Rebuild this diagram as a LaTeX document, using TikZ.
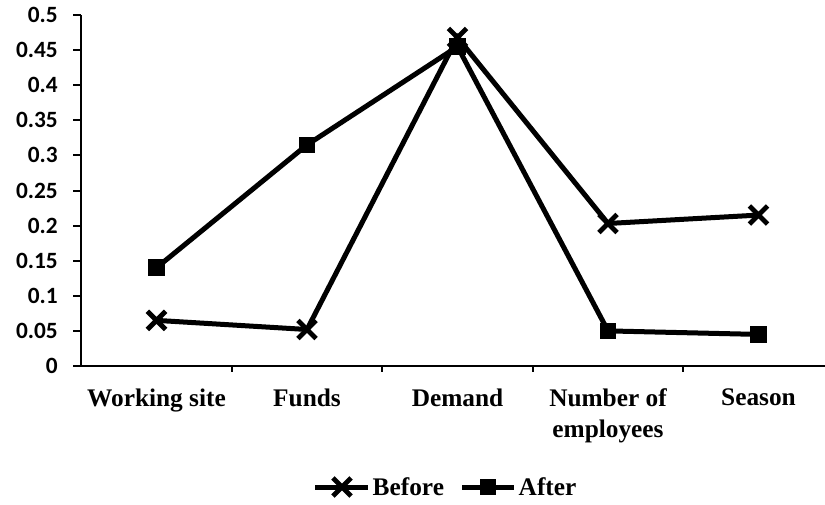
\documentclass[tikz,border=0pt]{standalone}
\usepackage{fontspec}
\setmainfont{Liberation Serif}
\newfontfamily\ticfont{Carlito}
\usetikzlibrary{shapes.misc, positioning}

\begin{document}
\begin{tikzpicture}[x=0.75pt, y=-0.75pt,
		axisline/.style={line width=1.5pt},
		series/.style={line width=3.75pt},
		sqmark/.style={fill=black, minimum size=12.5pt, inner sep=0pt},
		crossmark/.style={draw, cross out, line width=3.6pt, minimum size=10pt, inner sep=0pt},
		ticklabel/.style={anchor=east, inner sep=0pt, font=\ticfont\bfseries\fontsize{17.5}{20}\selectfont},
		catlabel/.style={anchor=north, align=center, font=\bfseries\fontsize{19}{23}\selectfont},
		leglabel/.style={font=\bfseries\fontsize{19}{23}\selectfont}]
		
		\useasboundingbox (0,0) rectangle (825,504);
		
		% axes
		\coordinate (o) at (81,366);
		\coordinate (ytop) at (81,15);
		\coordinate (xend) at (825,366);
		\draw[axisline] (ytop) -- (o) -- (xend);
		
		\foreach \lab [count=\i from 0] in {0,0.05,0.1,0.15,0.2,0.25,0.3,0.35,0.4,0.45,0.5} {
			\draw[axisline] (73,{366-35.1*\i}) -- (81,{366-35.1*\i});
			\node[ticklabel] (t\i) at (58,{366-35.1*\i}) {\lab};
		}
		\foreach \i in {1,...,4}
			\draw[axisline] ({81+150.5*\i},366) -- ({81+150.5*\i},372);
		
		% categories
		\foreach \lab [count=\i] in {Working site, Funds, Demand, {Number of\\employees}, Season}
			\node[catlabel] (c\i) at ({6+150.5*\i},384) {\lab};
		
		% before
		\foreach \v [count=\i] in {0.065,0.052,0.468,0.203,0.215}
			\coordinate (b\i) at ({6+150.5*\i},{366-702*\v});
		\draw[series] (b1) -- (b2) -- (b3) -- (b4) -- (b5);
		\foreach \i in {1,...,5}
			\node[crossmark] (bm\i) at (b\i) {};
		
		% after
		\foreach \v [count=\i] in {0.14,0.315,0.455,0.05,0.045}
			\coordinate (a\i) at ({6+150.5*\i},{366-702*\v});
		\draw[series] (a1) -- (a2) -- (a3) -- (a4) -- (a5);
		\foreach \i in {1,...,5}
			\node[sqmark] (am\i) at (a\i) {};
		
		% legend
		\coordinate (legb-l) at (315,487);
		\coordinate (legb-r) at (368,487);
		\draw[series] (legb-l) -- (legb-r);
		\node[crossmark] (legb) at (342,487) {};
		\node[leglabel, right=0pt of legb-r] (before) {Before};
		
		\coordinate (lega-l) at (462,487);
		\coordinate (lega-r) at (514,487);
		\draw[series] (lega-l) -- (lega-r);
		\node[sqmark] (lega) at (488,487) {};
		\node[leglabel, right=0pt of lega-r] (after) {After};
		
	\end{tikzpicture}
\end{document}
